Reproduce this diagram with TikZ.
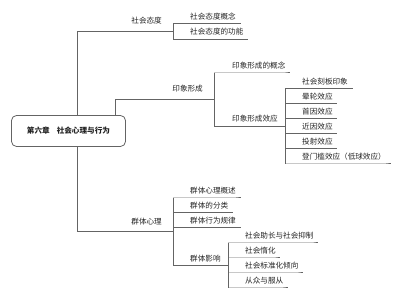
\documentclass[tikz,border=0pt]{standalone}
\usepackage{fontspec}
\setmainfont{Noto Sans CJK SC}
\usetikzlibrary{calc,positioning}
\definecolor{linegray}{RGB}{100,100,100}
\definecolor{txtgray}{RGB}{35,35,35}
\tikzset{
  root/.style={draw=linegray,line width=0.8pt,rounded corners=5pt,
    minimum width=114pt,minimum height=31pt,
    font=\fontsize{7.6}{9}\selectfont\bfseries},
  branch/.style={draw=linegray,line width=1pt},
  topic/.style={anchor=base east,inner sep=0pt},
  leaf/.style={anchor=base west,inner sep=0pt},
  every node/.style={font=\fontsize{7.6}{9}\selectfont,text=txtgray}
}

\begin{document}
\begin{tikzpicture}[x=1pt,y=-1pt]
\useasboundingbox (0,0) rectangle (400,299);
\node[root] (root) at (68.5,131) {第六章\hspace{7pt}社会心理与行为};

% branch: social attitude
\coordinate (att) at (173,31.5);
\coordinate (att1) at (173,23.6);
\coordinate (att2) at (173,39.4);
\draw[branch] ([xshift=8.5pt]root.north) |- (att);
\node[topic] (attlbl) at ($(att)+(-11,-7.5)$) {社会态度};
\draw[branch] (att1) -- (att2);
\node[leaf] (attA) at ($(att1)+(17,-4.4)$) {社会态度概念};
\node[leaf] (attB) at ($(att2)+(17,-4.4)$) {社会态度的功能};
\draw[branch] (att1) -- (att1 -| attA.east) -- ++(4.5,0);
\draw[branch] (att2) -- (att2 -| attB.east) -- ++(4.5,0);

% branch: impression formation
\coordinate (imp) at (214,99.5);
\coordinate (imp1) at (214,73);
\coordinate (imp2) at (214,126.2);
\draw[branch] ([xshift=46.5pt]root.north) |- (imp);
\node[topic] (implbl) at ($(imp)+(-11,-7.5)$) {印象形成};
\draw[branch] (imp1) -- (imp2);
\node[leaf] (impA) at ($(imp1)+(18,-4.4)$) {印象形成的概念};
\node[leaf] (impB) at ($(imp2)+(18,-4.4)$) {印象形成效应};
\draw[branch] (imp1) -- (imp1 -| impA.east) -- ++(4.5,0);

% effects
\coordinate (eff1) at (285,88.5);
\coordinate (eff2) at (285,103.6);
\coordinate (eff3) at (285,118.7);
\coordinate (eff4) at (285,133.8);
\coordinate (eff5) at (285,148.9);
\coordinate (eff6) at (285,164);
\draw[branch] (imp2) -- (imp2 -| eff1);
\draw[branch] (eff1) -- (eff6);
\node[leaf] (effA) at ($(eff1)+(17,-4.4)$) {社会刻板印象};
\node[leaf] (effB) at ($(eff2)+(17,-4.4)$) {晕轮效应};
\node[leaf] (effC) at ($(eff3)+(17,-4.4)$) {首因效应};
\node[leaf] (effD) at ($(eff4)+(17,-4.4)$) {近因效应};
\node[leaf] (effE) at ($(eff5)+(17,-4.4)$) {投射效应};
\node[leaf] (effF) at ($(eff6)+(17,-4.4)$) {登门槛效应（低球效应）};
\draw[branch] (eff1) -- (eff1 -| effA.east) -- ++(4.5,0);
\draw[branch] (eff2) -- (eff2 -| effB.east) -- ++(4.5,0);
\draw[branch] (eff3) -- (eff3 -| effC.east) -- ++(4.5,0);
\draw[branch] (eff4) -- (eff4 -| effD.east) -- ++(4.5,0);
\draw[branch] (eff5) -- (eff5 -| effE.east) -- ++(4.5,0);
\draw[branch] (eff6) -- (eff6 -| effF.east) -- ++(4.5,0);

% branch: group psychology
\coordinate (grp) at (173,231.8);
\coordinate (grp1) at (173,198);
\coordinate (grp2) at (173,212.8);
\coordinate (grp3) at (173,227.8);
\coordinate (grp4) at (173,265.5);
\draw[branch] ([xshift=8.5pt]root.south) |- (grp);
\node[topic] (grplbl) at ($(grp)+(-11,-7.5)$) {群体心理};
\draw[branch] (grp1) -- (grp4);
\node[leaf] (grpA) at ($(grp1)+(17,-4.4)$) {群体心理概述};
\node[leaf] (grpB) at ($(grp2)+(17,-4.4)$) {群体的分类};
\node[leaf] (grpC) at ($(grp3)+(17,-4.4)$) {群体行为规律};
\node[leaf] (grpD) at ($(grp4)+(17,-4.4)$) {群体影响};
\draw[branch] (grp1) -- (grp1 -| grpA.east) -- ++(4.5,0);
\draw[branch] (grp2) -- (grp2 -| grpB.east) -- ++(4.5,0);
\draw[branch] (grp3) -- (grp3 -| grpC.east) -- ++(4.5,0);

% group influence
\coordinate (inf1) at (228,243);
\coordinate (inf2) at (228,258);
\coordinate (inf3) at (228,273);
\coordinate (inf4) at (228,288);
\draw[branch] (grp4) -- (grp4 -| inf1);
\draw[branch] (inf1) -- (inf4);
\node[leaf] (infA) at ($(inf1)+(17,-4.4)$) {社会助长与社会抑制};
\node[leaf] (infB) at ($(inf2)+(17,-4.4)$) {社会惰化};
\node[leaf] (infC) at ($(inf3)+(17,-4.4)$) {社会标准化倾向};
\node[leaf] (infD) at ($(inf4)+(17,-4.4)$) {从众与服从};
\draw[branch] (inf1) -- (inf1 -| infA.east) -- ++(4.5,0);
\draw[branch] (inf2) -- (inf2 -| infB.east) -- ++(4.5,0);
\draw[branch] (inf3) -- (inf3 -| infC.east) -- ++(4.5,0);
\draw[branch] (inf4) -- (inf4 -| infD.east) -- ++(4.5,0);
\end{tikzpicture}
\end{document}
